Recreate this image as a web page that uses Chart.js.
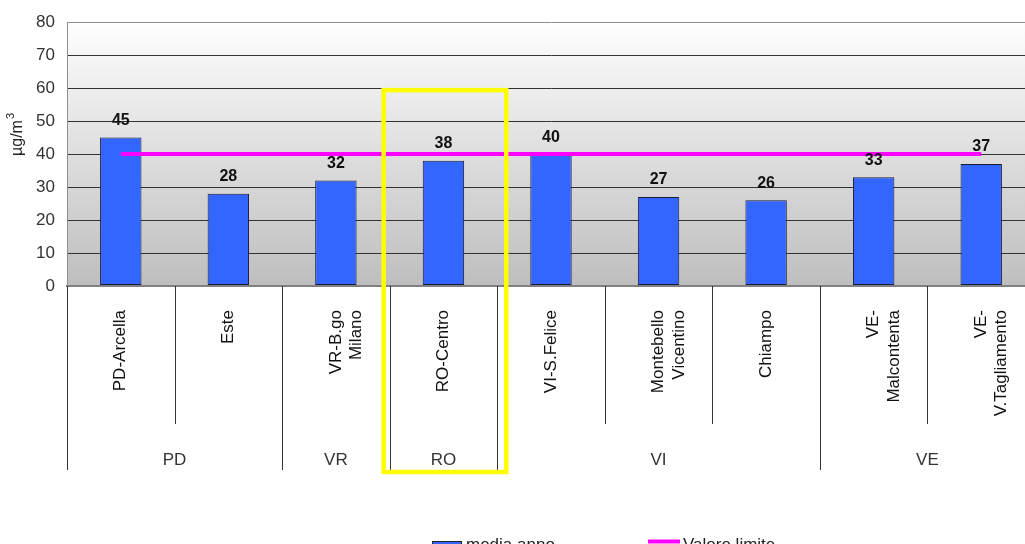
<!DOCTYPE html>
<html>
<head>
<meta charset="utf-8">
<script src="https://cdn.jsdelivr.net/npm/chart.js@4.4.1/dist/chart.umd.min.js"></script>
<style>
  html, body { margin: 0; padding: 0; background: #fff; overflow: hidden; }
  #wrap { position: relative; width: 1035px; height: 544px; }
</style>
</head>
<body>
<div id="wrap"><canvas id="chart"></canvas></div>
<script>
// stations (multi-line where the original wraps)
const stations = [
  "PD-Arcella", "Este", ["VR-B.go", "Milano"], "RO-Centro", "VI-S.Felice",
  ["Montebello", "Vicentino"], "Chiampo", ["VE-", "Malcontenta"], ["VE-", "V.Tagliamento"]
];
const mediaAnno = [45, 28, 32, 38, 40, 27, 26, 33, 37];
const valoreLimite = [40, 40, 40, 40, 40, 40, 40, 40, 40];
const provinces = ["PD", "VR", "RO", "VI", "VE"];
const provinceSizes = [2, 1, 1, 3, 2];
const yTicks = [0, 10, 20, 30, 40, 50, 60, 70, 80];
const highlighted = "RO";

const FONT = "'Liberation Sans', Arial, sans-serif";

const decor = {
  id: "decor",
  beforeDraw(chart) {
    const { ctx, chartArea: a } = chart;
    const g = ctx.createLinearGradient(0, a.top, 0, a.bottom);
    g.addColorStop(0, "#fefefe");
    g.addColorStop(1, "#bebebe");
    ctx.save();
    ctx.fillStyle = g;
    ctx.fillRect(a.left, a.top, a.right - a.left, a.bottom - a.top);
    ctx.restore();
  },
  afterDatasetsDraw(chart) {
    // value labels above the bars
    const { ctx } = chart;
    const meta = chart.getDatasetMeta(0);
    ctx.save();
    ctx.font = "bold 16px " + FONT;
    ctx.fillStyle = "#111";
    ctx.textAlign = "center";
    ctx.textBaseline = "middle";
    meta.data.forEach((bar, i) => {
      ctx.fillText(String(mediaAnno[i]), bar.x, bar.y - 17);
    });
    ctx.restore();
  },
  afterDraw(chart) {
    const { ctx, chartArea: a } = chart;
    const x = chart.scales.x;
    const y = chart.scales.y;
    const n = stations.length;
    const step = x.width / n;

    // group boundaries
    const bounds = [0];
    provinceSizes.forEach(s => bounds.push(bounds[bounds.length - 1] + s));

    ctx.save();
    ctx.strokeStyle = "#333";
    ctx.lineWidth = 1;
    for (let b = 0; b < n; b++) {
      const px = Math.round(x.left + b * step) + 0.5;
      const long = bounds.includes(b);
      ctx.beginPath();
      ctx.moveTo(px, a.bottom);
      ctx.lineTo(px, long ? a.bottom + 184 : a.bottom + 138);
      ctx.stroke();
    }

    // province labels
    ctx.font = "17px " + FONT;
    ctx.fillStyle = "#333";
    ctx.textAlign = "center";
    ctx.textBaseline = "middle";
    provinces.forEach((p, i) => {
      const cx = x.left + (bounds[i] + provinceSizes[i] / 2) * step;
      ctx.fillText(p, cx, a.bottom + 174);
    });

    // y axis title
    ctx.save();
    ctx.translate(18, 138);
    ctx.rotate(-Math.PI / 2);
    ctx.fillStyle = "#222";
    ctx.font = "16px " + FONT;
    ctx.textAlign = "center";
    ctx.fillText("µg/m", 0, 0);
    const w = ctx.measureText("µg/m").width;
    ctx.font = "11px " + FONT;
    ctx.textAlign = "left";
    ctx.fillText("3", w / 2 + 1, -7);
    ctx.restore();

    // legend
    ctx.fillStyle = "#3366ff";
    ctx.fillRect(432, 541, 30, 12);
    ctx.strokeStyle = "#222";
    ctx.lineWidth = 1;
    ctx.strokeRect(432.5, 541.5, 29, 12);
    ctx.fillStyle = "#222";
    ctx.textAlign = "left";
    ctx.textBaseline = "alphabetic";
    ctx.font = "17px " + FONT;
    ctx.fillText("media anno", 466, 550);
    ctx.strokeStyle = "#ff00ff";
    ctx.lineWidth = 4;
    ctx.beginPath();
    ctx.moveTo(648, 541.5);
    ctx.lineTo(680, 541.5);
    ctx.stroke();
    ctx.fillText("Valore limite", 683, 550);

    // highlight box around one province
    const hi = provinces.indexOf(highlighted);
    const left = x.left + bounds[hi] * step - 6;
    const right = x.left + bounds[hi + 1] * step + 9;
    const top = y.getPixelForValue(60) + 2;
    ctx.strokeStyle = "#ffff00";
    ctx.lineWidth = 4.5;
    ctx.strokeRect(left, top, right - left, a.bottom + 186 - top);
    ctx.restore();
  }
};

new Chart(document.getElementById("chart"), {
  type: "bar",
  data: {
    labels: stations,
    datasets: [
      {
        type: "bar",
        label: "media anno",
        data: mediaAnno,
        backgroundColor: "#3366ff",
        borderColor: "#1a1a3a",
        borderWidth: 1,
        borderSkipped: false,
        categoryPercentage: 1,
        barPercentage: 0.385,
        order: 1
      },
      {
        type: "line",
        label: "Valore limite",
        data: valoreLimite,
        borderColor: "#ff00ff",
        borderWidth: 4,
        pointRadius: 0,
        fill: false,
        order: 0
      }
    ]
  },
  options: {
    responsive: true,
    maintainAspectRatio: false,
    animation: false,
    layout: { padding: { top: 19, bottom: 72, left: 0, right: 0 } },
    plugins: {
      legend: { display: false },
      tooltip: { enabled: false }
    },
    scales: {
      x: {
        grid: { display: false, drawTicks: false },
        border: { display: true, color: "#808080", width: 2 },
        ticks: {
          autoSkip: false,
          minRotation: 90,
          maxRotation: 90,
          padding: 24,
          color: "#111",
          font: { family: FONT, size: 17 }
        },
        afterFit(scale) {
          scale.height = 186;
          scale.paddingLeft = 0;
          scale.paddingRight = 0;
        }
      },
      y: {
        min: 0,
        max: 80,
        afterBuildTicks(scale) { scale.ticks = yTicks.map(v => ({ value: v })); },
        grid: {
          drawTicks: false,
          color: c => (c.tick.value === 0 || c.tick.value === 80) ? "#909090" : "#333",
          lineWidth: c => c.tick.value === 0 ? 2 : 1
        },
        border: { display: true, color: "#909090", width: 1 },
        ticks: {
          padding: 12,
          color: "#333",
          font: { family: FONT, size: 17 }
        },
        afterFit(scale) { scale.width = 67; }
      }
    }
  },
  plugins: [decor]
});
</script>
</body>
</html>
